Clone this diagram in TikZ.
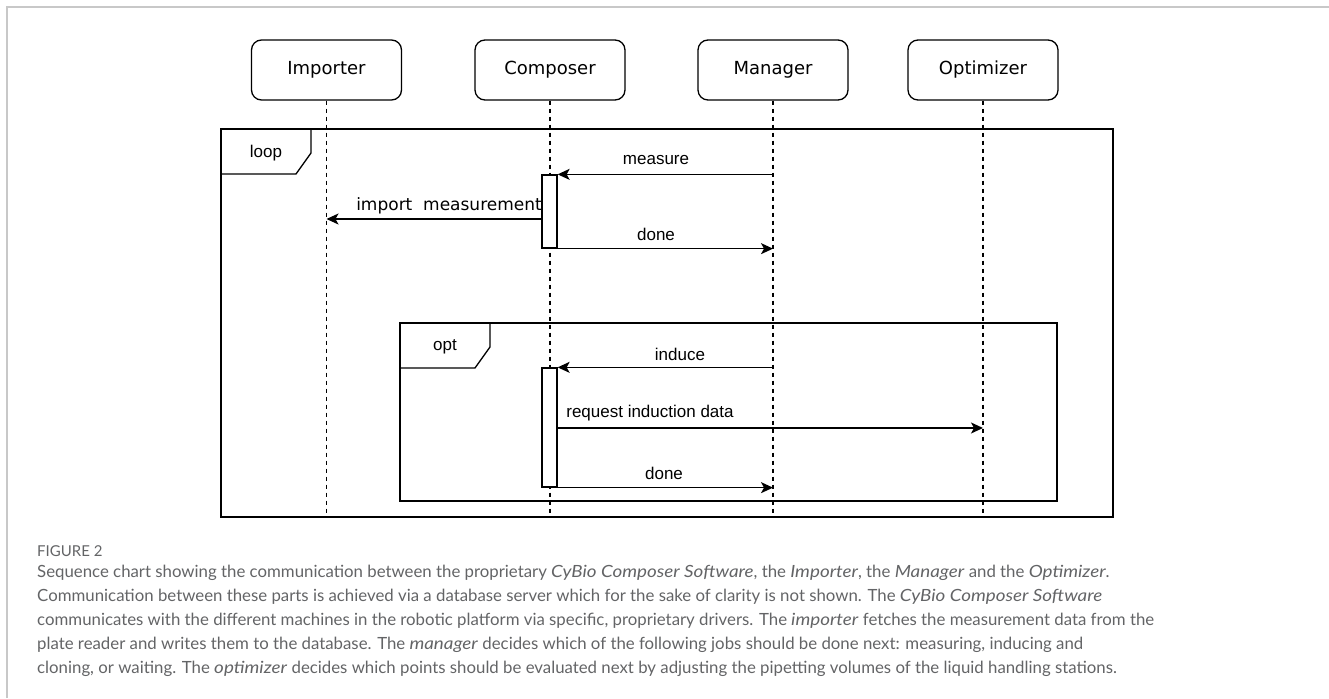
\documentclass[tikz,border=0pt]{standalone}
\usepackage{fontspec}
\setmainfont{Liberation Sans}
\newfontfamily\dejavu{DejaVu Sans}
\newfontfamily\capfont[ItalicFeatures={FakeStretch=1.12}]{Lato}
\usetikzlibrary{arrows.meta}
\definecolor{capgray}{HTML}{636466}
\definecolor{pagegray}{HTML}{C8C8C8}
\begin{document}
\begin{tikzpicture}[x=1pt,y=-1pt,
  actor/.style={draw,line width=1.3pt,rounded corners=10pt,minimum width=150pt,minimum height=60pt,inner sep=0pt,font=\dejavu\fontsize{18}{21}\selectfont},
  lifeline/.style={line width=1.3pt,dash pattern=on 4pt off 4pt},
  framebox/.style={line width=1.3pt},
  actbox/.style={draw,fill=white,line width=1.3pt,minimum width=15pt,inner sep=0pt},
  msg/.style={line width=1.3pt,-{Stealth[length=12pt,width=11pt,inset=3pt]}},
  lbl/.style={inner sep=0pt,font=\fontsize{17}{20}\selectfont},
  captxt/.style={anchor=base west,inner sep=0pt,font=\capfont\fontsize{16.8}{20}\selectfont,text=capgray}
]
\useasboundingbox (0,0) rectangle (1329,698);
% page border
\draw[pagegray,line width=1.5pt] (7,698) -- (7,7) -- (1329,7);

% actors
\node[actor] (imp) at (326.5,70) {Importer};
\node[actor] (com) at (550,70) {Composer};
\node[actor] (man) at (773,70) {Manager};
\node[actor] (opt) at (983,70) {Optimizer};

% frame corners
\coordinate (L1) at (221,129);
\coordinate (L2) at (1113,517);
\coordinate (O1) at (400,323);
\coordinate (O2) at (1057,501);

% lifelines
\foreach \a in {imp,com,man,opt}{
  \draw[lifeline] (\a.south) -- (\a.south |- L2);
}

% loop frame
\draw[framebox] (L1) rectangle (L2);
\draw[framebox] (221,174) -- (296,174) -- (311,153) -- (311,129);
\node[lbl] (looplbl) at (266,153) {loop};

% opt frame
\draw[framebox] (O1) rectangle (O2);
\draw[framebox] (400,368) -- (475,368) -- (490,347) -- (490,323);
\node[lbl] (optlbl) at (445,347) {opt};

% activation boxes
\node[actbox,minimum height=73pt] (act1) at (549.5,211.5) {};
\node[actbox,minimum height=119pt] (act2) at (549.5,427.5) {};

% messages
\coordinate (m1) at (man.south |- act1.north);
\draw[msg] (m1) -- (act1.north east);
\node[lbl] (lmeasure) at (656,160) {measure};

\coordinate (i1) at (act1.west |- 0,219);
\coordinate (i2) at (imp.south |- 0,219);
\draw[msg] (i1) -- (i2);
\node[lbl,font=\dejavu\fontsize{17}{20}\selectfont,anchor=east] (limport) at (542,206) {import\ \ measurement};

\coordinate (d1) at (man.south |- act1.south);
\draw[msg] (act1.south east) -- (d1);
\node[lbl] (ldone1) at (656,234) {done};

\coordinate (n1) at (man.south |- act2.north);
\draw[msg] (n1) -- (act2.north east);
\node[lbl] (linduce) at (680,354) {induce};

\coordinate (r1) at (act2.east |- 0,428);
\coordinate (r2) at (opt.south |- 0,428);
\draw[msg] (r1) -- (r2);
\node[lbl] (lrequest) at (650,413) {request induction data};

\coordinate (d2) at (man.south |- act2.south);
\draw[msg] (act2.south east) -- (d2);
\node[lbl] (ldone2) at (664,473) {done};

% caption
\node[captxt,font=\capfont\fontsize{15}{17}\selectfont] (fig) at (37,556) {FIGURE 2};
\node[captxt] (c1) at (37,577) {Sequence chart showing the communication between the proprietary \textit{CyBio Composer Software}, the \textit{Importer}, the \textit{Manager} and the \textit{Optimizer}.};
\node[captxt] (c2) at (37,601) {Communication between these parts is achieved via a database server which for the sake of clarity is not shown. The \textit{CyBio Composer Software}};
\node[captxt] (c3) at (37,625) {communicates with the different machines in the robotic platform via specific, proprietary drivers. The \textit{importer} fetches the measurement data from the};
\node[captxt] (c4) at (37,649) {plate reader and writes them to the database. The \textit{manager} decides which of the following jobs should be done next: measuring, inducing and};
\node[captxt] (c5) at (37,673) {cloning, or waiting. The \textit{optimizer} decides which points should be evaluated next by adjusting the pipetting volumes of the liquid handling stations.};
\end{tikzpicture}
\end{document}
